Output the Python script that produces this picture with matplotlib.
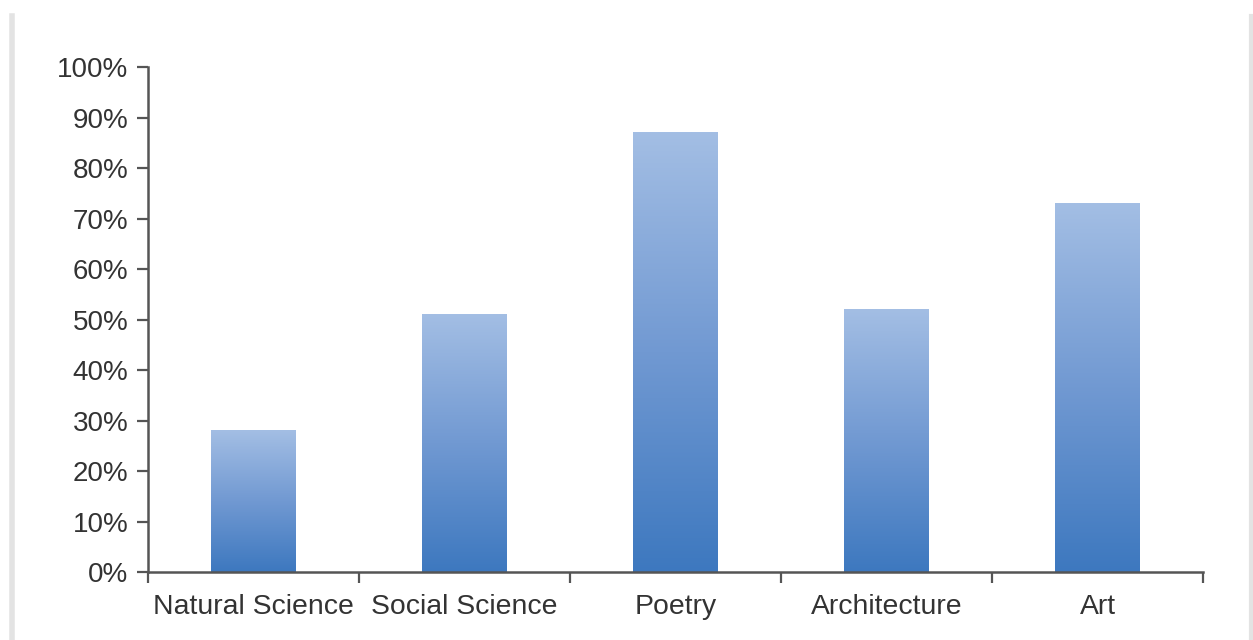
import numpy as np
import matplotlib
matplotlib.use("Agg")
import matplotlib.pyplot as plt
from matplotlib.colors import LinearSegmentedColormap
from matplotlib.lines import Line2D
from matplotlib.ticker import FixedLocator, PercentFormatter

categories = ["Natural Science", "Social Science", "Poetry", "Architecture", "Art"]
values = [28, 51, 87, 52, 73]

plt.rcParams['font.family'] = ['Liberation Sans', 'DejaVu Sans']

fig = plt.figure(figsize=(12.53, 6.4), dpi=100)
ax = fig.add_axes([0.1181, 0.10625, 0.842, 0.789])

cmap = LinearSegmentedColormap.from_list("bar", ["#3D78BF", "#7199D2", "#A3BEE4"])
grad = np.linspace(0, 1, 256).reshape(-1, 1)
width = 0.4
for i, v in enumerate(values):
    ax.imshow(grad, cmap=cmap, origin="lower", aspect="auto",
              extent=[i - width / 2, i + width / 2, 0, v], zorder=2)

ax.set_xlim(-0.5, len(categories) - 0.5)
ax.set_ylim(0, 100)
ax.set_yticks(np.arange(0, 101, 10))
ax.yaxis.set_major_formatter(PercentFormatter(decimals=0))

ax.xaxis.set_major_locator(FixedLocator(np.arange(-0.5, len(categories), 1.0)))
ax.xaxis.set_minor_locator(FixedLocator(np.arange(len(categories))))
ax.set_xticklabels([], minor=False)
ax.set_xticklabels(categories, minor=True)
ax.tick_params(axis="x", which="minor", length=0, pad=16, labelsize=20.4)
ax.tick_params(axis="x", which="major", length=8, width=1.6, color="#555555")
ax.tick_params(axis="y", length=8, width=1.6, color="#555555", pad=6, labelsize=20)
ax.tick_params(which="both", labelcolor="#333333")

for s in ["top", "right"]:
    ax.spines[s].set_visible(False)
for s in ["left", "bottom"]:
    ax.spines[s].set_color("#555555")
    ax.spines[s].set_linewidth(1.8)

# page borders around the screenshot
fig.add_artist(Line2D([12 / 1253, 12 / 1253], [0, 0.975], color="#e3e3e3", lw=4))
fig.add_artist(Line2D([1251 / 1253, 1251 / 1253], [0, 0.975], color="#e3e3e3", lw=3))

fig.savefig("out.png", dpi=100)
